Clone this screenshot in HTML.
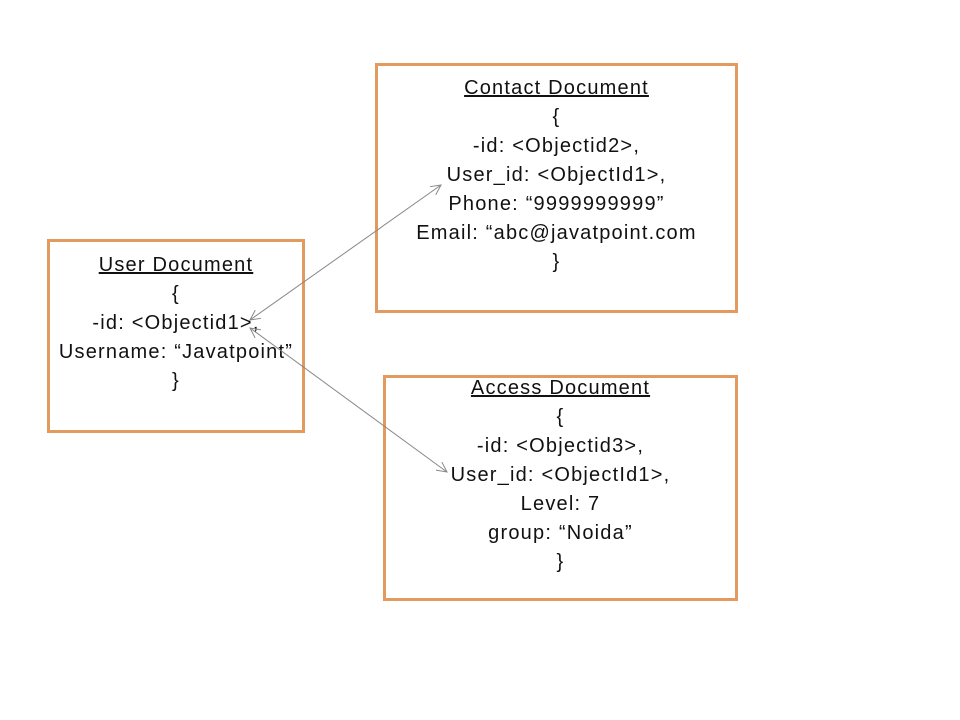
<!DOCTYPE html>
<html><head><meta charset="utf-8"><style>
body{margin:0;width:960px;height:720px;background:#fff;position:relative;overflow:hidden;font-family:"Liberation Sans",sans-serif;}
.box{position:absolute;border:3px solid #E39A5F;box-sizing:border-box;}
.t{position:absolute;text-align:center;font-size:20px;letter-spacing:1.2px;color:#111;line-height:29px;}
u{text-decoration:underline;}
svg{position:absolute;left:0;top:0;}
</style></head><body>
<div class="box" style="left:47px;top:239px;width:258px;height:194px;"></div>
<div class="box" style="left:375px;top:63px;width:363px;height:250px;"></div>
<div class="box" style="left:383px;top:375px;width:355px;height:226px;"></div>
<div class="t" style="left:18px;width:316px;top:251px;"><u>User Document</u><br>{<br>-id: &lt;Objectid1&gt;,<br>Username: “Javatpoint”<br>}</div>
<div class="t" style="left:356px;width:401px;top:74px;"><u>Contact Document</u><br>{<br>-id: &lt;Objectid2&gt;,<br>User_id: &lt;ObjectId1&gt;,<br>Phone: “9999999999”<br>Email: “abc@javatpoint.com<br>}</div>
<div class="t" style="left:364px;width:393px;top:374px;"><u>Access Document</u><br>{<br>-id: &lt;Objectid3&gt;,<br>User_id: &lt;ObjectId1&gt;,<br>Level: 7<br>group: “Noida”<br>}</div>
<svg width="960" height="720">
<defs><marker id="a" markerWidth="12" markerHeight="12" refX="10" refY="6" orient="auto-start-reverse" markerUnits="userSpaceOnUse"><path d="M0,1 L10,6 L0,11" fill="none" stroke="#888" stroke-width="1"/></marker></defs>
<line x1="250" y1="320" x2="441" y2="185" stroke="#888" stroke-width="1" marker-start="url(#a)" marker-end="url(#a)"/>
<line x1="250" y1="328" x2="447" y2="472" stroke="#888" stroke-width="1" marker-start="url(#a)" marker-end="url(#a)"/>
</svg>
</body></html>
